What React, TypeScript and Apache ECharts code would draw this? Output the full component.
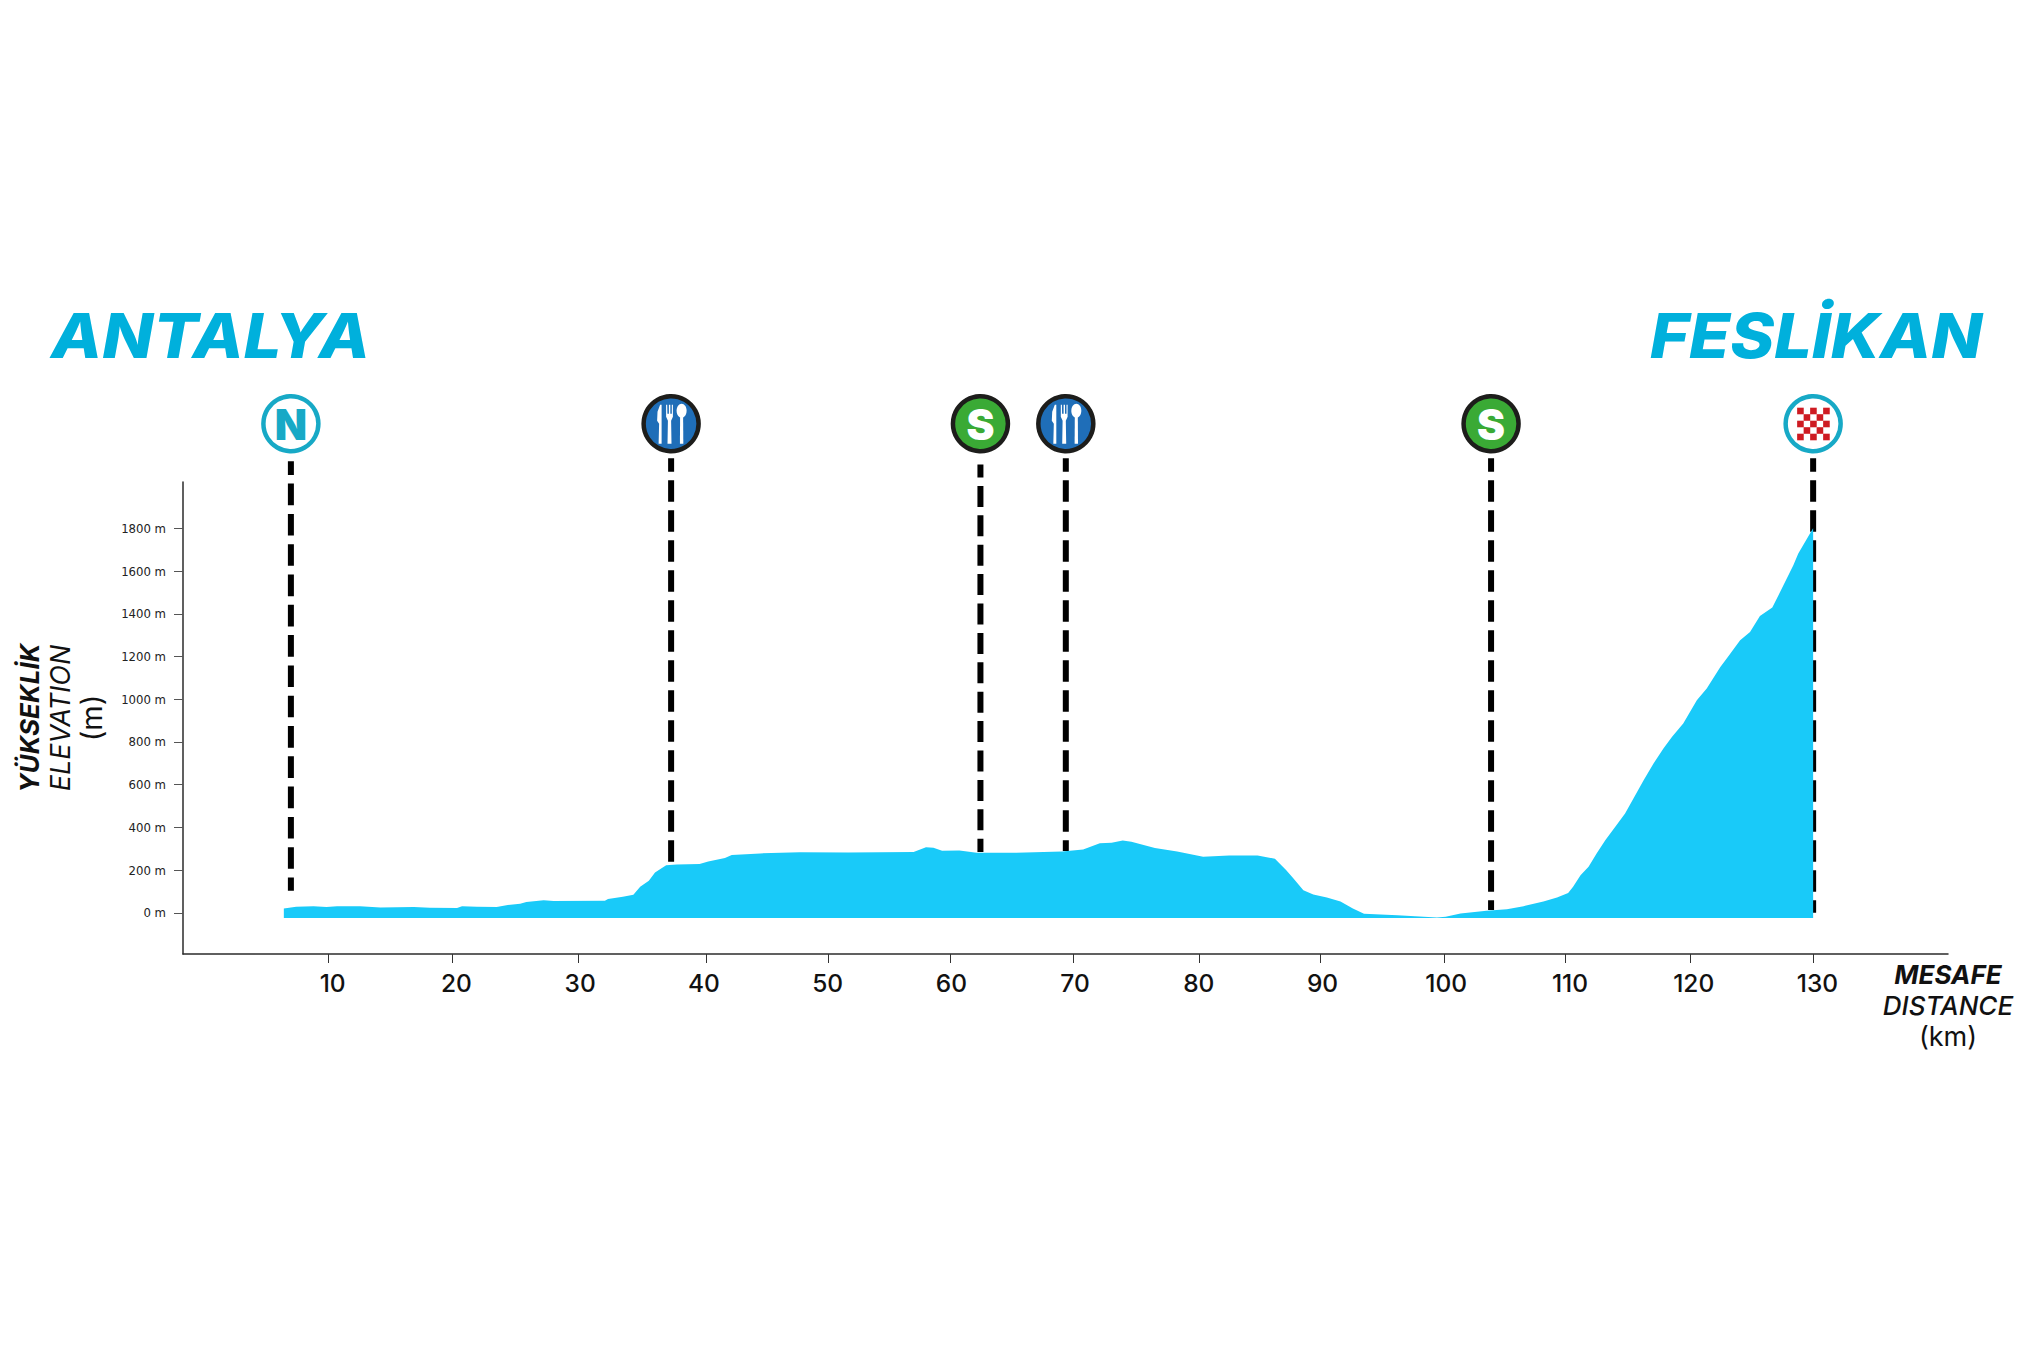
import React, { useEffect, useRef } from "react";
import * as echarts from "echarts";

const startName = "ANTALYA";
const finishName = "FESLİKAN";
const profileKm = [6.4,7.4,8.8,9.85,10.7,12.55,14.2,16.9,18.2,20.4,20.8,22,23.6,24.5,25.5,26,27.4,28.2,32.35,32.6,33.8,34.65,35.2,35.9,36.4,37.3,38.15,40,40.7,42.05,42.6,44.9,48.1,52,57.3,58.3,58.9,59.6,61,62.4,65.6,69.3,71,72.35,73.3,74.2,74.9,76.8,78.6,80.7,82.8,85.1,86.5,87.4,88,88.8,89.6,90.7,91.8,92.8,93.7,96.4,99.6,100.3,101.5,103.6,105.25,106.6,108.2,109.3,110.2,110.6,111.2,111.85,112.5,113.2,114.1,114.8,116.3,117.1,117.9,118.6,119.5,120.6,121.4,122.5,123,124.1,124.9,125.7,126.7,127.2,128.4,128.8,129.9,130];
const profileM = [20,28,31,27,30,30,25,27,23,22,30,28,27,36,42,50,59,55,56,64,75,84,122,150,189,222,226,228,240,256,270,278,283,282,284,307,304,290,292,281,281,287,296,325,328,339,332,303,287,262,268,268,253,200,161,106,86,72,53,20,-4,-12,-22,-19,-3,9,16,31,53,72,93,122,176,215,278,340,410,465,621,699,769,824,886,995,1050,1151,1190,1276,1315,1390,1429,1487,1627,1682,1791,1800];
const xTickLabels = [10,20,30,40,50,60,70,80,90,100,110,120,130];
const xTickPositions = [10,20,30.2,40.5,50.4,60.3,70.2,80.4,90.2,100.2,110,120.1,130];
const yTicks = [0,200,400,600,800,1000,1200,1400,1600,1800];
const stopKinds = ["N","food","S","food","S","finish"];
const stopKm = [6.97,37.7,62.7,69.6,103.97,130.0];
const stopDashTop = [2114,2128,2099,2128,2128,2128];
const stopDashBottom = [103,223,284,289,13,0];

const DASH_PERIODS = [30.3, 30, 29.4, 30, 30, 30];
const ICON_M = 2290;
const checkerRows = [[0,2,4],[1,3],[0,2,4],[1,3],[0,2,4]];

function iconChildren(kind: string, cx: number, cy: number) {
  const black = "#1d1d1b";
  const teal = "#17A9C6";
  const disc = (fill: string, stroke: string, w: number) => ({
    type: "circle", shape: { cx, cy, r: 27.5 }, style: { fill, stroke, lineWidth: w },
  });
  const letter = (t: string, fill: string) => ({
    type: "text",
    style: { text: t, x: cx, y: cy + 1, align: "center", verticalAlign: "middle",
      fontFamily: "Inter", fontWeight: 900, fontSize: 42, fill },
  });
  if (kind === "N") return [disc("#ffffff", teal, 4.5), letter("N", teal)];
  if (kind === "S") return [disc("#3AAA35", black, 4.5), letter("S", "#ffffff")];
  if (kind === "finish") {
    const size = 6.6;
    const rects: any[] = [];
    checkerRows.forEach((cols, r) => cols.forEach((c) => rects.push({
      type: "rect",
      shape: { x: cx - 16 + c * 6.5, y: cy - 16 + r * 6.5, width: size, height: size },
      style: { fill: "#CE1B22" },
    })));
    return [disc("#ffffff", teal, 4.5), ...rects];
  }
  const white = { fill: "#ffffff" };
  const poly = (pts: number[][]) => ({
    type: "polygon", shape: { points: pts.map(([a, b]) => [cx + a, cy + b]) }, style: white,
  });
  return [
    disc("#1F6EB8", black, 4.5),
    poly([[-11,-19],[-9.5,-19],[-9.5,20],[-12.5,20],[-12,0],[-14,-3],[-13.6,-12]]),
    poly([[-5,-19],[-3.9,-19],[-3.7,-10],[-2.2,-10],[-2.2,-19],[-0.8,-19],[-0.8,-10],[0.7,-10],[0.7,-19],[1.8,-19],[1.8,-7],[0,-3],[0.4,20],[-3.6,20],[-3.2,-3],[-5,-7]]),
    { type: "ellipse", shape: { cx: cx + 10.5, cy: cy - 13, rx: 5, ry: 7 }, style: white },
    poly([[9,-8],[12,-8],[12.2,20],[8.8,20]]),
  ];
}

export default function App() {
  const ref = useRef<HTMLDivElement>(null);
  useEffect(() => {
    const chart = echarts.init(ref.current!, undefined, { renderer: "svg" });
    const sans = "Inter";
    const titleStyle = { fontFamily: sans, fontStyle: "italic", fontWeight: 800, fontSize: 62, fill: "#00B0DC" };
    chart.setOption({
      animation: false,
      backgroundColor: "#ffffff",
      grid: { left: 183, top: 482, width: 1765, height: 472, containLabel: false },
      xAxis: {
        type: "value", min: -1.75, max: 140.9, splitLine: { show: false },
        axisLine: { show: true, onZero: false, lineStyle: { color: "#2b2b2b", width: 1.5 } },
        axisTick: { show: true, length: 9, customValues: xTickPositions, lineStyle: { color: "#333", width: 1 } },
        axisLabel: {
          customValues: xTickLabels, margin: 16, padding: [0, 0, 0, 8.6],
          fontFamily: sans, fontWeight: 500, fontSize: 24.5, color: "#111",
        },
        name: "{a|MESAFE}\n{b|DISTANCE}\n{c|(km)}",
        nameLocation: "end", nameGap: 0,
        nameTextStyle: {
          align: "center", verticalAlign: "top", padding: [5, 0, 0, 0],
          rich: {
            a: { fontFamily: sans, fontStyle: "italic", fontWeight: 700, fontSize: 26, lineHeight: 31, color: "#111" },
            b: { fontFamily: sans, fontStyle: "italic", fontWeight: 500, fontSize: 26, lineHeight: 31, color: "#111" },
            c: { fontFamily: sans, fontWeight: 400, fontSize: 27, lineHeight: 31, color: "#111" },
          },
        },
      },
      yAxis: {
        type: "value", min: -193, max: 2017, splitLine: { show: false },
        axisLine: { show: true, onZero: false, lineStyle: { color: "#2b2b2b", width: 1.5 } },
        axisTick: { show: true, length: 9, customValues: yTicks, lineStyle: { color: "#555", width: 1 } },
        axisLabel: {
          customValues: yTicks, margin: 17, padding: [0, 0, 2, 0],
          formatter: (v: number) => `${v} m`,
          fontFamily: "'Liberation Sans Narrow', 'DejaVu Sans Condensed'", fontSize: 13, color: "#222",
        },
        name: "{a|YÜKSEKLİK}\n{b|ELEVATION}\n{c|(m)}",
        nameLocation: "middle", nameRotate: 90, nameGap: 76,
        nameTextStyle: {
          rich: {
            a: { fontFamily: sans, fontStyle: "italic", fontWeight: 700, fontSize: 26, lineHeight: 31, color: "#111" },
            b: { fontFamily: sans, fontStyle: "italic", fontWeight: 400, fontSize: 27, lineHeight: 31, color: "#111" },
            c: { fontFamily: sans, fontWeight: 400, fontSize: 29, lineHeight: 31, color: "#111" },
          },
        },
      },
      graphic: [
        { type: "text", x: 51, y: 305, scaleX: 1.075, style: { text: startName, ...titleStyle } },
        { type: "text", x: 1650, y: 305, scaleX: 1.075, style: { text: finishName, ...titleStyle } },
      ],
      series: [
        {
          type: "custom", z: 1, silent: true, clip: false,
          data: stopKm.map((km, i) => [km, stopDashTop[i], stopDashBottom[i], i]),
          encode: { x: 0, y: 1 },
          renderItem: (_: any, api: any) => {
            const km = api.value(0);
            const [x, y1] = api.coord([km, api.value(1)]);
            const [, y2] = api.coord([km, api.value(2)]);
            const period = DASH_PERIODS[api.value(3)];
            return {
              type: "line",
              shape: { x1: x, y1, x2: x, y2 },
              style: { stroke: "#000000", lineWidth: 6, lineDash: [period * 0.715, period * 0.285], lineDashOffset: 8, fill: null },
            };
          },
        },
        {
          type: "line", z: 2, silent: true, symbol: "none",
          data: profileKm.map((km, i) => [km, profileM[i]]),
          lineStyle: { width: 0, color: "#19CAF9" },
          areaStyle: { color: "#19CAF9", opacity: 1, origin: -24 },
        },
        {
          type: "custom", z: 3, silent: true, clip: false,
          data: stopKm.map((km, i) => [km, ICON_M, i]),
          encode: { x: 0, y: 1 },
          renderItem: (_: any, api: any) => {
            const [cx, cy] = api.coord([api.value(0), api.value(1)]);
            return { type: "group", children: iconChildren(stopKinds[api.value(2)], cx, cy) };
          },
        },
      ],
    });
    return () => chart.dispose();
  }, []);
  return <div ref={ref} style={{ position: "absolute", left: 0, top: 0, width: 2031, height: 1348 }} />;
}
